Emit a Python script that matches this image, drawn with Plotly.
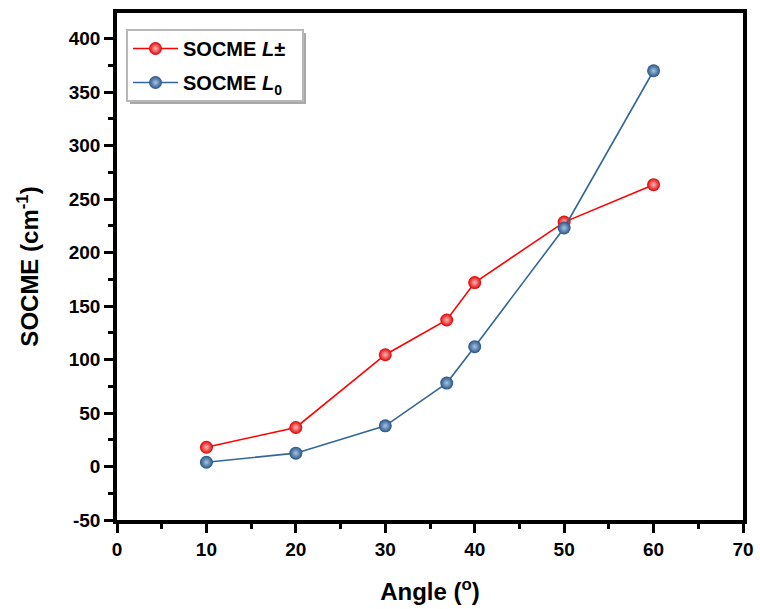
import plotly.graph_objects as go

angles = [10, 20, 30, 36.87, 40, 50, 60]
socme_lpm = [18, 36.5, 104.5, 137, 172, 228.5, 263.5]
socme_l0 = [4, 12.5, 38, 78, 112, 223, 370]
x_ticks = [0, 10, 20, 30, 40, 50, 60, 70]
y_ticks = [-50, 0, 50, 100, 150, 200, 250, 300, 350, 400]

fig = go.Figure()
fig.add_trace(go.Scatter(
    x=angles, y=socme_lpm, mode="lines+markers",
    name="<b>SOCME <i>L</i>±</b>", legendgroup="a",
    line=dict(color="#ff0000", width=1.6),
    marker=dict(size=13, color="#e00000", line=dict(width=0),
                gradient=dict(type="radial", color="#ffb8b8")),
))
fig.add_trace(go.Scatter(
    x=angles, y=socme_l0, mode="lines+markers",
    name="<b>SOCME <i>L</i><sub>0</sub></b>", legendgroup="b",
    line=dict(color="#336699", width=1.6),
    marker=dict(size=13, color="#255288", line=dict(width=0),
                gradient=dict(type="radial", color="#a8c4e0")),
))

font_main = "Liberation Sans, Arial, sans-serif"

def px_x(p):
    return (p - 117) / 626

def px_y(p):
    return (520 - p) / 507

# legend shadow and frame
fig.add_shape(type="rect", xref="paper", yref="paper",
              x0=px_x(130), x1=px_x(306), y0=px_y(104), y1=px_y(33),
              fillcolor="#a8a8a8", line=dict(width=0), layer="above")
fig.add_shape(type="rect", xref="paper", yref="paper",
              x0=px_x(127), x1=px_x(303), y0=px_y(101), y1=px_y(30),
              fillcolor="white", line=dict(width=2, color="#b8b8b8"), layer="above")

fig.update_layout(
    width=760, height=609,
    margin=dict(l=117, r=17, t=13, b=89, autoexpand=False),
    paper_bgcolor="white", plot_bgcolor="white",
    font=dict(family=font_main, color="black"),
    showlegend=True,
    legend=dict(
        x=px_x(128), y=px_y(29), xanchor="left", yanchor="top",
        bgcolor="rgba(0,0,0,0)", borderwidth=0,
        font=dict(size=20, family=font_main, color="black"),
        itemwidth=45, tracegroupgap=5,
    ),
    xaxis=dict(
        range=[0, 70], automargin=False,
        tickvals=x_ticks, ticktext=[f"<b>{v}</b>" for v in x_ticks],
        showline=True, linecolor="black", linewidth=3.5, mirror=True,
        ticks="outside", ticklen=9, tickwidth=3, tickcolor="black",
        minor=dict(dtick=5, ticks="outside", ticklen=5, tickwidth=2.5, tickcolor="black"),
        showgrid=False, zeroline=False,
        tickfont=dict(size=19, family=font_main),
        title=dict(text="<b>Angle (<sup>o</sup>)</b>", font=dict(size=24), standoff=26),
    ),
    yaxis=dict(
        range=[-50, 424], automargin=False,
        tickvals=y_ticks, ticktext=[f"<b>{v}</b>" for v in y_ticks],
        showline=True, linecolor="black", linewidth=3.5, mirror=True,
        ticks="outside", ticklen=9, tickwidth=3, tickcolor="black",
        minor=dict(dtick=25, ticks="outside", ticklen=5, tickwidth=2.5, tickcolor="black"),
        showgrid=False, zeroline=False,
        tickfont=dict(size=19, family=font_main),
        title=dict(text="<b>SOCME (cm<sup>-1</sup>)</b>", font=dict(size=24), standoff=24),
    ),
)

fig.write_html("out.html")
